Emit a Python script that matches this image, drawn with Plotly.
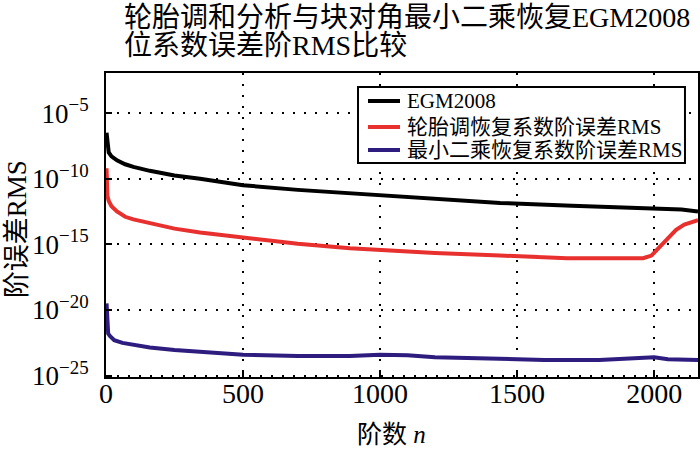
import numpy as np
import plotly.graph_objects as go

# Degree n and log10 of degree-error RMS
egm_n = [2, 5, 10, 20, 40, 70, 100, 160, 250, 343, 500, 700, 890, 1000, 1200, 1438, 1700, 2000, 2100, 2160]
egm_log = [-6.5, -7.5, -8.0, -8.3, -8.6, -8.9, -9.1, -9.4, -9.75, -10.0, -10.5, -10.85, -11.1, -11.25,
           -11.55, -11.85, -12.05, -12.25, -12.35, -12.5]

tire_n = [2, 3, 5, 10, 20, 40, 70, 100, 160, 250, 343, 500, 700, 890, 1000, 1200, 1438, 1682, 1800,
          1960, 1990, 2020, 2050, 2080, 2110, 2140, 2160]
tire_log = [-9.2, -10.5, -11.3, -11.7, -12.1, -12.5, -12.9, -13.1, -13.4, -13.8, -14.1, -14.5, -14.95,
            -15.3, -15.45, -15.65, -15.85, -16.05, -16.05, -16.05, -15.85, -15.2, -14.5, -13.9, -13.5,
            -13.25, -13.15]

ls_n = [2, 4, 8, 15, 30, 60, 100, 160, 250, 343, 500, 700, 890, 1000, 1100, 1200, 1438, 1600, 1800,
        1950, 2000, 2050, 2160]
ls_log = [-19.5, -21.2, -21.8, -22.0, -22.3, -22.5, -22.65, -22.85, -23.05, -23.2, -23.4, -23.5, -23.5,
          -23.4, -23.45, -23.6, -23.75, -23.8, -23.8, -23.7, -23.6, -23.75, -23.8]

series_names = ["EGM2008", "轮胎调恢复系数阶误差RMS", "最小二乘恢复系数阶误差RMS"]
series_colors = ["#000000", "#e8302e", "#2e1c7e"]

x_ticks = [0, 500, 1000, 1500, 2000]
y_tick_exps = [-25, -20, -15, -10, -5]

title_lines = ["轮胎调和分析与块对角最小二乘恢复EGM2008", "位系数误差阶RMS比较"]

FONT = "Liberation Serif, Noto Sans CJK SC, serif"

fig = go.Figure()
for n, lg, name, col in zip([egm_n, tire_n, ls_n], [egm_log, tire_log, ls_log], series_names, series_colors):
    fig.add_trace(go.Scatter(x=n, y=10.0 ** np.array(lg), mode="lines", name=name,
                             line=dict(color=col, width=4), showlegend=False))

fig.update_layout(
    width=700, height=451,
    margin=dict(l=106, r=2, t=73, b=74),
    paper_bgcolor="white", plot_bgcolor="white",
    font=dict(family=FONT, color="black", size=22),
)

# Title lines (left-aligned, two lines)
for txt, yy in zip(title_lines, [1.182, 1.089]):
    fig.add_annotation(text=txt, xref="paper", yref="paper", x=0.027, y=yy,
                       xanchor="left", yanchor="middle", showarrow=False,
                       font=dict(size=28, family=FONT, color="black"))
# Axis titles
fig.add_annotation(text="阶误差RMS", xref="paper", yref="paper", x=-0.150, y=0.487,
                   xanchor="center", yanchor="middle", textangle=-90, showarrow=False,
                   font=dict(size=27, family=FONT, color="black"))
fig.add_annotation(text="阶数 <i>n</i>", xref="paper", yref="paper", x=0.482, y=-0.188,
                   xanchor="center", yanchor="middle", showarrow=False,
                   font=dict(size=25, family=FONT, color="black"))

# Legend box (drawn manually for tight spacing)
fig.add_shape(type="rect", xref="paper", yref="paper", x0=0.4257, x1=0.978, y0=0.704, y1=0.954,
              line=dict(color="black", width=2), fillcolor="white", layer="above")
for name, col, yy in zip(series_names, series_colors, [0.9079, 0.8224, 0.7467]):
    fig.add_shape(type="line", xref="paper", yref="paper", x0=0.4426, x1=0.4966, y0=yy, y1=yy,
                  line=dict(color=col, width=4), layer="above")
    fig.add_annotation(text=name, xref="paper", yref="paper", x=0.505, y=yy,
                       xanchor="left", yanchor="middle", showarrow=False,
                       font=dict(size=21, family=FONT, color="black"))

fig.update_xaxes(range=[0, 2160], tickvals=x_ticks, ticktext=[str(v) for v in x_ticks],
                 showline=True, linecolor="black", linewidth=2, mirror=True, automargin=False,
                 ticks="inside", ticklen=6, tickwidth=2, tickcolor="black",
                 showgrid=True, gridcolor="black", gridwidth=2, griddash="2px,9px",
                 zeroline=False, tickfont=dict(size=28), ticklabelstandoff=-10)
fig.update_yaxes(type="log", range=[-25.1, -1.95],
                 tickvals=[10.0 ** e for e in y_tick_exps],
                 ticktext=["10<sup>−%d</sup>" % (-e) for e in y_tick_exps],
                 showline=True, linecolor="black", linewidth=2, mirror=True, automargin=False,
                 ticks="inside", ticklen=6, tickwidth=2, tickcolor="black",
                 showgrid=True, gridcolor="black", gridwidth=2, griddash="2px,9px",
                 zeroline=False, tickfont=dict(size=27), ticklabelstandoff=10)

# Remove the browser's default 8px body margin so the figure fills the window exactly.
fig.write_html("out.html", config={"displayModeBar": False},
               post_script="document.body.style.margin='0px';")
